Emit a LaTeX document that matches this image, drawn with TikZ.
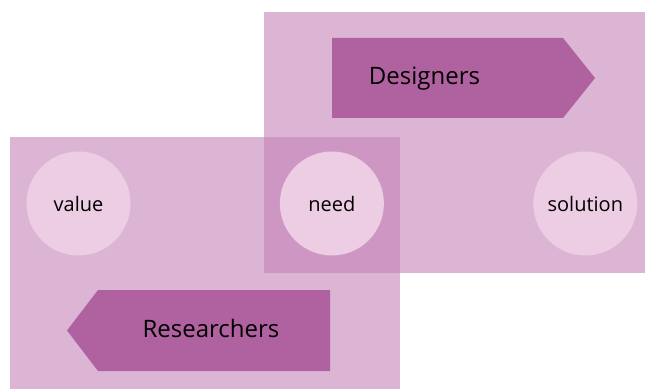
\documentclass[tikz,border=0pt]{standalone}
\usepackage{fontspec}
\setmainfont{Open Sans}
\usetikzlibrary{positioning}

\definecolor{regionpink}{RGB}{197,130,183}
\definecolor{bubblepink}{RGB}{237,205,227}
\definecolor{bannerplum}{RGB}{176,98,160}

\begin{document}
\begin{tikzpicture}[
    x=1pt, y=1pt,
    node distance=149pt,
    region/.style={fill=regionpink, fill opacity=0.6},
    bubble/.style={circle, fill=bubblepink, minimum size=104pt, inner sep=0pt, font=\fontsize{20}{24}\selectfont, text=black},
    banner/.style={fill=bannerplum},
    title/.style={anchor=base, font=\fontsize{24}{29}\selectfont, text=black}
]
    \useasboundingbox (0,0) rectangle (645,389);

    % two overlapping areas
    \fill[region] (264,116) rectangle (645,377);
    \fill[region] (10,0) rectangle (400,252);

    % banners
    \fill[banner] (332,271) -- (563,271) -- (595,311) -- (563,351) -- (332,351) -- cycle;
    \fill[banner] (330,18) -- (98,18) -- (67,58.5) -- (98,99) -- (330,99) -- cycle;

    \node[bubble] (value) at (78.5,185.5) {value};
    \node[bubble, right=of value] (need) {need};
    \node[bubble, right=of need] (solution) {solution};

    \node[title] (designers) at (424.5,304.7) {Designers};
    \node[title] (researchers) at (211,51.7) {Researchers};
\end{tikzpicture}
\end{document}
